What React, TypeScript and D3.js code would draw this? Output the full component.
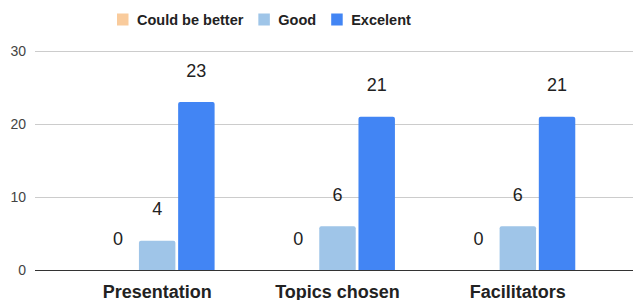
import { useRef, useEffect } from "react";
import * as d3 from "d3";

const WIDTH = 635;
const HEIGHT = 300;

const CATEGORIES = ["Presentation", "Topics chosen", "Facilitators"];
const SERIES = ["Could be better", "Good", "Excelent"];
const COULD_BE_BETTER = [0, 0, 0];
const GOOD = [4, 6, 6];
const EXCELENT = [23, 21, 21];
const Y_TICKS = [0, 10, 20, 30];
const COLORS = ["#f9cb9c", "#9fc5e8", "#4285f4"];

const FONT = "'Liberation Sans', Arial, sans-serif";

const App = () => {
  const svgRef = useRef<SVGSVGElement>(null);

  useEffect(() => {
    const svg = d3.select(svgRef.current);
    svg.selectAll("*").remove();

    const values = [COULD_BE_BETTER, GOOD, EXCELENT];

    const y = d3.scaleLinear([0, 30], [270, 51]);
    const x0 = d3.scaleBand(CATEGORIES, [67, 608]).paddingInner(0.363).paddingOuter(0.1815);
    const x1 = d3.scaleBand(SERIES, [0, x0.bandwidth()]).paddingInner(0.07);

    // grid
    const grid = svg.append("g");
    grid.selectAll("line")
      .data(Y_TICKS)
      .join("line")
      .attr("x1", 35)
      .attr("x2", 633)
      .attr("y1", d => Math.round(y(d)) + 0.5)
      .attr("y2", d => Math.round(y(d)) + 0.5)
      .attr("stroke", d => d === 0 ? "#333" : "#ccc")
      .attr("stroke-width", 1);

    grid.selectAll("text")
      .data(Y_TICKS)
      .join("text")
      .attr("x", 26)
      .attr("y", d => y(d) + 5)
      .attr("text-anchor", "end")
      .attr("font-family", FONT)
      .attr("font-size", 14)
      .attr("fill", "#444")
      .text(d => d);

    // bars
    const groups = svg.append("g")
      .selectAll("g")
      .data(CATEGORIES)
      .join("g")
      .attr("transform", d => `translate(${x0(d)},0)`);

    const cells = groups.selectAll("g")
      .data((_c, i) => SERIES.map((s, j) => ({ s, j, v: values[j][i] })))
      .join("g");

    cells.filter(d => d.v > 0)
      .append("path")
      .attr("fill", d => COLORS[d.j])
      .attr("d", d => {
        const bx = x1(d.s)!;
        const bw = x1.bandwidth();
        const top = y(d.v);
        const bot = y(0);
        const r = 2;
        return `M${bx},${bot}V${top + r}Q${bx},${top} ${bx + r},${top}H${bx + bw - r}Q${bx + bw},${top} ${bx + bw},${top + r}V${bot}Z`;
      });

    cells.append("text")
      .attr("x", d => x1(d.s)! + x1.bandwidth() / 2)
      .attr("y", d => y(d.v) - 25.5)
      .attr("text-anchor", "middle")
      .attr("font-family", FONT)
      .attr("font-size", 18)
      .attr("fill", "#222")
      .text(d => d.v);

    // category labels
    svg.append("g")
      .selectAll("text")
      .data(CATEGORIES)
      .join("text")
      .attr("x", d => x0(d)! + x0.bandwidth() / 2)
      .attr("y", 298)
      .attr("text-anchor", "middle")
      .attr("font-family", FONT)
      .attr("font-size", 18)
      .attr("font-weight", "bold")
      .attr("fill", "#222")
      .text(d => d);

    // legend
    const legend = svg.append("g").attr("transform", "translate(117,0)");
    let lx = 0;
    SERIES.forEach((s, i) => {
      const item = legend.append("g").attr("transform", `translate(${lx},0)`);
      item.append("rect")
        .attr("x", 0)
        .attr("y", 13.5)
        .attr("width", 11.5)
        .attr("height", 12)
        .attr("fill", COLORS[i]);
      const t = item.append("text")
        .attr("x", 20)
        .attr("y", 25)
        .attr("font-family", FONT)
        .attr("font-size", 14.5)
        .attr("font-weight", "bold")
        .attr("fill", "#222")
        .text(s);
      const w = (t.node() as SVGTextElement).getComputedTextLength();
      lx += 20 + w + 15;
    });
  }, []);

  return (
    <svg
      ref={svgRef}
      width={WIDTH}
      height={HEIGHT}
      style={{ position: "fixed", left: 0, top: 0, background: "#fff" }}
    />
  );
};

export default App;
